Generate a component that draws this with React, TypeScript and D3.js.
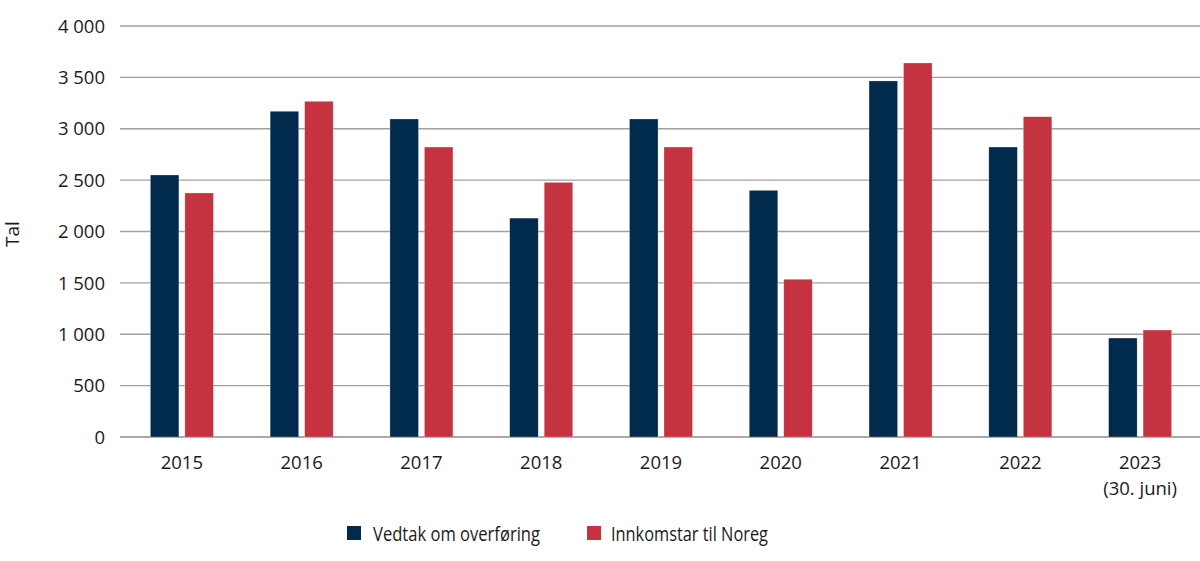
import React from "react";
import * as d3 from "d3";

const categories = ["2015", "2016", "2017", "2018", "2019", "2020", "2021", "2022", "2023"];
const categorySubLabels = ["", "", "", "", "", "", "", "", "(30. juni)"];
const vedtak = [2550, 3170, 3095, 2130, 3095, 2400, 3465, 2822, 963];
const innkomstar = [2375, 3267, 2822, 2478, 2822, 1535, 3640, 3117, 1041];
const seriesNames = ["Vedtak om overføring", "Innkomstar til Noreg"];
const seriesColors = ["#012B4D", "#C63340"];
const yTicks = [0, 500, 1000, 1500, 2000, 2500, 3000, 3500, 4000];

const W = 1200;
const H = 561;
const plotLeft = 122;
const plotRight = 1200;
const gridLeft = 120;
const y0 = 437;
const yTop = 26;
const FONT = "'Open Sans', 'Noto Sans', sans-serif";

const fmt = (v: number) => {
  const s = String(v);
  if (v >= 1000) return s.slice(0, s.length - 3) + " " + s.slice(s.length - 3);
  return s;
};

export default function App() {
  const x = d3.scaleBand<string>().domain(categories).range([plotLeft, plotRight]).paddingInner(0).paddingOuter(0);
  const y = d3.scaleLinear().domain([0, 4000]).range([y0, yTop]);
  const barW = 28.5;
  const gap = 6;
  const series = [vedtak, innkomstar];

  return (
    <svg width={W} height={H} style={{ position: "absolute", left: 0, top: 0, display: "block" }} fontFamily={FONT}>
      <rect x={0} y={0} width={W} height={H} fill="#fff" />
      {yTicks.map((t) => (
        <g key={t}>
          <line x1={gridLeft} x2={W} y1={y(t)} y2={y(t)} stroke={t === 0 ? "#8c8c8c" : "#a0a0a0"} strokeWidth={1.3} />
          <text x={105} y={y(t)} dy="0.36em" textAnchor="end" fontSize={18.5} fill="#1a1a1a">
            {fmt(t)}
          </text>
        </g>
      ))}
      {categories.map((c, i) => {
        const cx = (x(c) as number) + x.bandwidth() / 2;
        return (
          <g key={c}>
            {series.map((vals, s) => {
              const bx = s === 0 ? cx - gap / 2 - barW : cx + gap / 2;
              return (
                <rect
                  key={s}
                  x={bx}
                  y={y(vals[i])}
                  width={barW}
                  height={y0 - y(vals[i])}
                  fill={seriesColors[s]}
                  stroke="#ffffff"
                  strokeOpacity={0.4}
                  strokeWidth={0.6}
                />
              );
            })}
            <text x={cx} y={462} dy="0.36em" textAnchor="middle" fontSize={18.5} fill="#1a1a1a">
              {c}
            </text>
            {categorySubLabels[i] && (
              <text x={cx} y={488} dy="0.36em" textAnchor="middle" fontSize={18.5} fill="#1a1a1a">
                {categorySubLabels[i]}
              </text>
            )}
          </g>
        );
      })}
      <text
        transform={`translate(12,234) rotate(-90)`}
        textAnchor="middle"
        dy="0.36em"
        fontSize={19}
        fill="#1a1a1a"
      >
        Tal
      </text>
      <g>
        <rect x={347} y={526} width={14} height={14} fill={seriesColors[0]} />
        <text x={373} y={533.5} dy="0.36em" fontSize={20} fill="#1a1a1a" textLength={167} lengthAdjust="spacingAndGlyphs">
          {seriesNames[0]}
        </text>
        <rect x={587} y={526} width={14} height={14} fill={seriesColors[1]} />
        <text x={611} y={533.5} dy="0.36em" fontSize={20} fill="#1a1a1a" textLength={157} lengthAdjust="spacingAndGlyphs">
          {seriesNames[1]}
        </text>
      </g>
    </svg>
  );
}
